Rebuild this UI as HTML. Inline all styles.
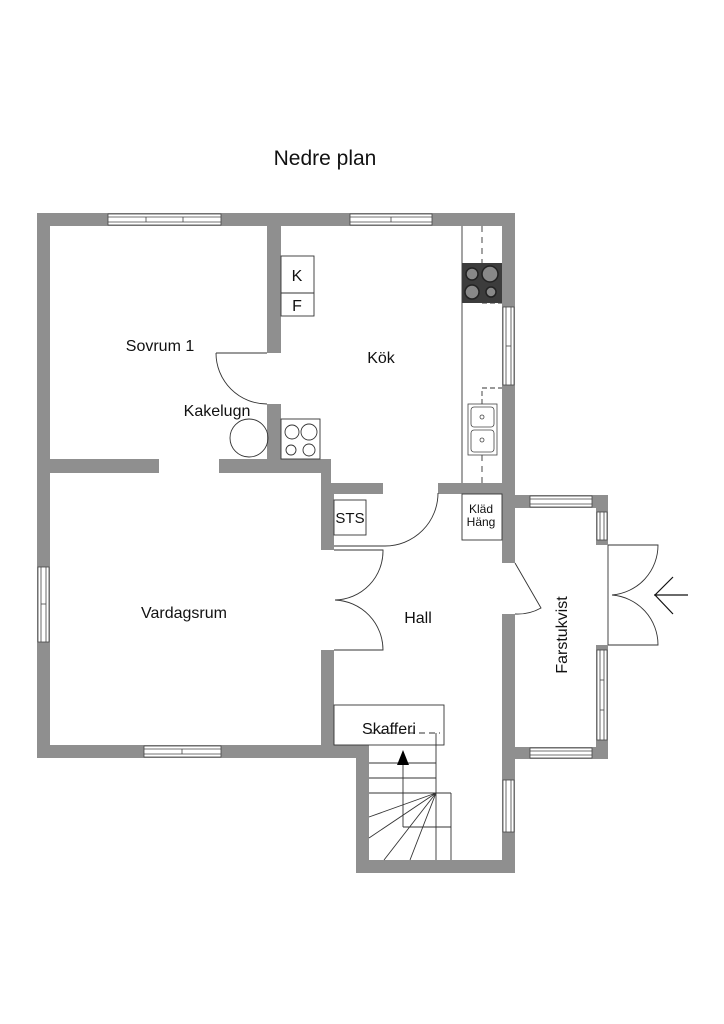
<!DOCTYPE html>
<html><head><meta charset="utf-8"><style>
html,body{margin:0;padding:0;background:#fff}
svg{display:block}
text{font-family:"Liberation Sans",sans-serif;fill:#111}
</style></head><body>
<svg width="724" height="1024" viewBox="0 0 724 1024" xmlns="http://www.w3.org/2000/svg">
<text x="325" y="165" font-size="21" text-anchor="middle">Nedre plan</text>
<g fill="#8f8f8f" stroke="none">
<rect x="37" y="213" width="478" height="13"/>
<rect x="37" y="213" width="13" height="545"/>
<rect x="37" y="745" width="332" height="13"/>
<rect x="502" y="213" width="13" height="350"/>
<rect x="502" y="614" width="13" height="259"/>
<rect x="356" y="745" width="13" height="128"/>
<rect x="356" y="860" width="159" height="13"/>
<rect x="267" y="213" width="14" height="140"/>
<rect x="267" y="404" width="14" height="69"/>
<rect x="50" y="459" width="109" height="14"/>
<rect x="219" y="459" width="112" height="14"/>
<rect x="321" y="459" width="10" height="30"/>
<rect x="321" y="483" width="62" height="11"/>
<rect x="321" y="483" width="13" height="67"/>
<rect x="438" y="483" width="77" height="11"/>
<rect x="321" y="650" width="13" height="108"/>
<rect x="515" y="495" width="93" height="13"/>
<rect x="515" y="747" width="93" height="12"/>
<rect x="596" y="495" width="12" height="50"/>
<rect x="596" y="645" width="12" height="114"/>
</g>
<g fill="#fff" stroke="#444" stroke-width="0.8">
<rect x="108" y="214" width="113" height="11"/><line x1="108" y1="217" x2="221" y2="217"/><line x1="108" y1="222" x2="221" y2="222"/><line x1="146" y1="217" x2="146" y2="222"/><line x1="183" y1="217" x2="183" y2="222"/>
<rect x="350" y="214" width="82" height="11"/><line x1="350" y1="217" x2="432" y2="217"/><line x1="350" y1="222" x2="432" y2="222"/><line x1="391" y1="217" x2="391" y2="222"/>
<rect x="503" y="307" width="11" height="78"/><line x1="506" y1="307" x2="506" y2="385"/><line x1="511" y1="307" x2="511" y2="385"/><line x1="506" y1="346" x2="511" y2="346"/>
<rect x="38" y="567" width="11" height="75"/><line x1="41" y1="567" x2="41" y2="642"/><line x1="46" y1="567" x2="46" y2="642"/><line x1="41" y1="604" x2="46" y2="604"/>
<rect x="144" y="746" width="77" height="11"/><line x1="144" y1="749" x2="221" y2="749"/><line x1="144" y1="754" x2="221" y2="754"/><line x1="182" y1="749" x2="182" y2="754"/>
<rect x="503" y="780" width="11" height="52"/><line x1="506" y1="780" x2="506" y2="832"/><line x1="511" y1="780" x2="511" y2="832"/>
<rect x="530" y="496" width="62" height="11"/><line x1="530" y1="499" x2="592" y2="499"/><line x1="530" y1="504" x2="592" y2="504"/>
<rect x="530" y="748" width="62" height="10"/><line x1="530" y1="751" x2="592" y2="751"/><line x1="530" y1="755" x2="592" y2="755"/>
<rect x="597" y="512" width="10" height="28"/><line x1="600" y1="512" x2="600" y2="540"/><line x1="604" y1="512" x2="604" y2="540"/>
<rect x="597" y="650" width="10" height="90"/><line x1="600" y1="650" x2="600" y2="740"/><line x1="604" y1="650" x2="604" y2="740"/><line x1="600" y1="680" x2="604" y2="680"/><line x1="600" y1="710" x2="604" y2="710"/>
</g>
<g fill="none" stroke="#333" stroke-width="0.9">
<line x1="462" y1="226" x2="462" y2="483"/>
<line x1="482" y1="226" x2="482" y2="263" stroke-dasharray="6,5"/>
<line x1="482" y1="303" x2="502" y2="303" stroke-dasharray="5,3"/>
<path d="M482 404 V388 H502" stroke-dasharray="5,3"/>
<line x1="482" y1="455" x2="482" y2="483" stroke-dasharray="6,5"/>
<rect x="281" y="256" width="33" height="60"/><line x1="281" y1="293" x2="314" y2="293"/>
<path d="M216 353 H267 M216 353 A51 51 0 0 0 267 404"/>
<circle cx="249" cy="438" r="19"/>
<rect x="281" y="419" width="39" height="40"/>
<circle cx="292" cy="432" r="7"/><circle cx="309" cy="432" r="8"/><circle cx="291" cy="450" r="5"/><circle cx="309" cy="450" r="6"/>
<rect x="334" y="500" width="32" height="35"/>
<path d="M334 546 H385 M385 546 A53 53 0 0 0 438 493"/>
<rect x="462" y="494" width="40" height="46"/>
<path d="M334 550 H383 A49 49 0 0 1 335 600 M334 650 H383 A50 50 0 0 0 335 600"/>
<path d="M515 563 L541 608 A48 48 0 0 1 515 614"/>
<path d="M608 545 V645 M608 545 H658 A50 50 0 0 1 612 595 M608 645 H658 A50 50 0 0 0 612 595"/>
<path d="M654 595 H688 M673 577 L655 595 L673 614" stroke="#111" stroke-width="1.2"/>
<rect x="334" y="705" width="110" height="40"/>
<path d="M369 733 H440" stroke-dasharray="6,4"/>
<line x1="436" y1="733" x2="436" y2="860"/>
<line x1="369" y1="763" x2="436" y2="763"/><line x1="369" y1="778" x2="436" y2="778"/><line x1="369" y1="793" x2="451" y2="793"/>
<path d="M451 793 V860 M403 827 H451 M403 827 V762"/>
<path d="M436 793 L369 817 M436 793 L369 838 M436 793 L384 860 M436 793 L410 860"/>
</g>
<polygon points="403,750 397,765 409,765" fill="#000"/>
<rect x="462" y="263" width="40" height="40" fill="#3c3c3c"/>
<g fill="#888" stroke="#222" stroke-width="1.5">
<circle cx="472" cy="274" r="6"/><circle cx="490" cy="274" r="8"/><circle cx="472" cy="292" r="7"/><circle cx="491" cy="292" r="5"/>
</g>
<g fill="#fff" stroke="#444" stroke-width="0.8">
<rect x="468" y="404" width="29" height="51"/><rect x="471" y="407" width="23" height="20" rx="3"/><rect x="471" y="430" width="23" height="22" rx="3"/>
<circle cx="482" cy="417" r="2"/><circle cx="482" cy="440" r="2"/>
</g>
<g font-size="16">
<text x="160" y="351" text-anchor="middle">Sovrum 1</text>
<text x="381" y="363" text-anchor="middle">Kök</text>
<text x="217" y="416" text-anchor="middle">Kakelugn</text>
<text x="184" y="618" text-anchor="middle">Vardagsrum</text>
<text x="418" y="623" text-anchor="middle">Hall</text>
<text x="389" y="734" text-anchor="middle">Skafferi</text>
<text x="297" y="281" text-anchor="middle">K</text>
<text x="297" y="311" text-anchor="middle">F</text>
<text x="350" y="523" text-anchor="middle" font-size="15">STS</text>
<text transform="translate(567,635) rotate(-90)" text-anchor="middle">Farstukvist</text>
</g>
<text x="481" y="513" text-anchor="middle" font-size="12">Kläd</text>
<text x="481" y="526" text-anchor="middle" font-size="12">Häng</text>
</svg>
</body></html>
